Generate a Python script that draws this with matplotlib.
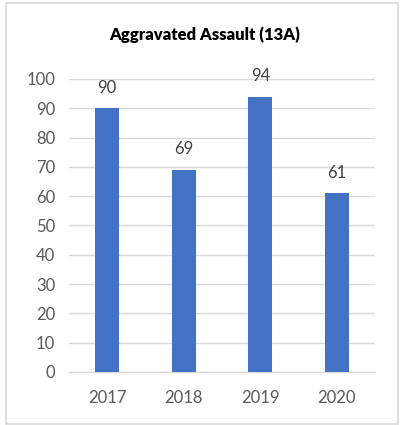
import matplotlib
matplotlib.use("Agg")
import matplotlib.pyplot as plt
from matplotlib.patches import Rectangle

years = ["2017", "2018", "2019", "2020"]
values = [90, 69, 94, 61]
yticks = [0, 10, 20, 30, 40, 50, 60, 70, 80, 90, 100]
title = "Aggravated Assault (13A)"

plt.rcParams['font.family'] = ['Lato', 'DejaVu Sans']

W, H = 400, 425
fig = plt.figure(figsize=(W / 100, H / 100), dpi=100)
fig.patch.set_facecolor('white')

# outer border
fig.add_artist(Rectangle((5.5 / W, 1 - 423.5 / H), (398 - 5.5) / W, (423.5 - 2.5) / H,
                         transform=fig.transFigure, fill=False,
                         edgecolor='#d9d9d9', linewidth=1.2))

ax = fig.add_axes([69 / W, 1 - 372 / H, (375 - 69) / W, (372 - 79) / H])
x = range(len(years))
bars = ax.bar(x, values, width=0.31, color='#4472c4', zorder=3)
ax.set_xlim(-0.5, len(years) - 0.5)
ax.set_ylim(0, 100)
ax.set_yticks(yticks)
ax.set_xticks(list(x))
ax.set_xticklabels(years)
ax.grid(axis='y', color='#d9d9d9', linewidth=1.0, zorder=0)
for s in ['top', 'right', 'left']:
    ax.spines[s].set_visible(False)
ax.spines['bottom'].set_color('#d9d9d9')
ax.spines['bottom'].set_linewidth(1.0)
ax.tick_params(axis='both', length=0, labelsize=12, colors='#595959')
ax.tick_params(axis='x', pad=13)
ax.tick_params(axis='y', pad=10)

for xi, v in zip(x, values):
    ax.annotate(str(v), (xi, v), xytext=(0, 9), textcoords='offset points',
                ha='center', va='bottom', fontsize=12, color='#404040')

fig.text(205 / W, 1 - 35 / H, title, ha='center', va='center',
         fontsize=12, fontweight='heavy', color='black')

fig.savefig('out.png', dpi=100, facecolor='white')
